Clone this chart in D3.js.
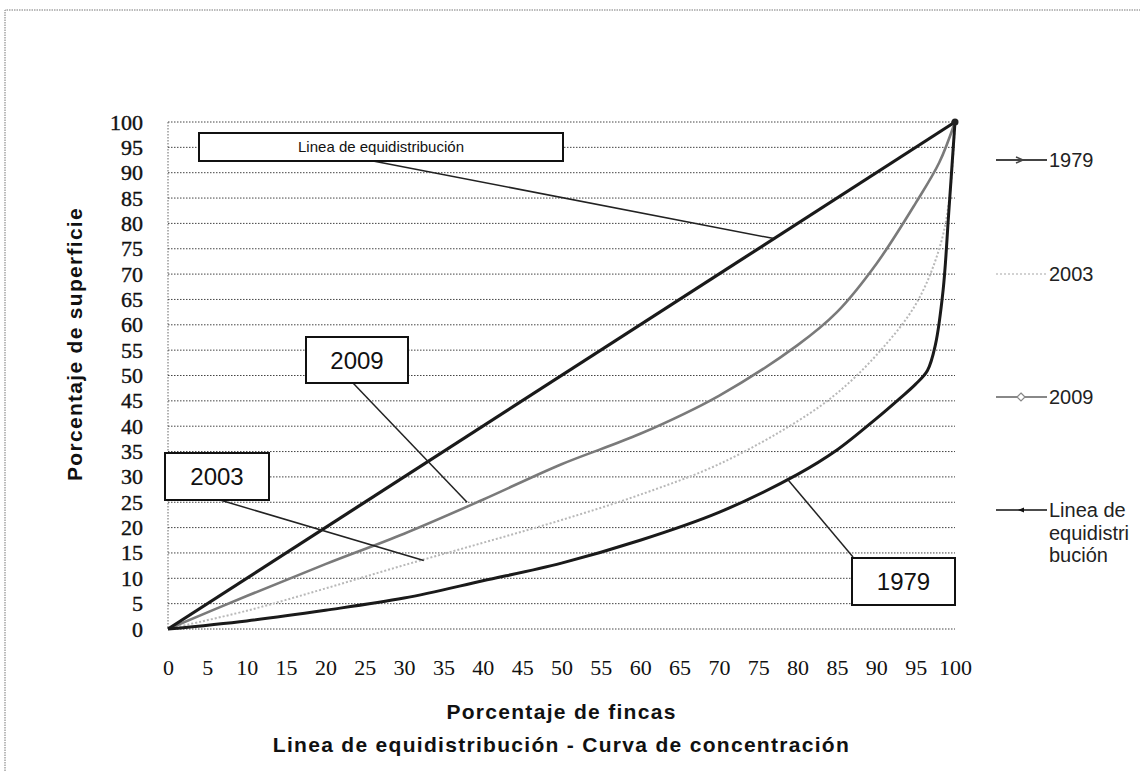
<!DOCTYPE html>
<html>
<head>
<meta charset="utf-8">
<script src="https://cdn.jsdelivr.net/npm/d3@7"></script>
<style>
  html, body { margin: 0; padding: 0; background: #fff; }
  svg { display: block; }
</style>
</head>
<body>
<svg id="chart" width="1140" height="771"></svg>
<script>
// ---------------- DATA ----------------
const xTicks = [0,5,10,15,20,25,30,35,40,45,50,55,60,65,70,75,80,85,90,95,100];
const yTicks = [0,5,10,15,20,25,30,35,40,45,50,55,60,65,70,75,80,85,90,95,100];

const equiX = [0, 100];
const equiY = [0, 100];

const x1979 = [0, 10, 20, 30, 40, 50, 60, 70, 80, 85, 90, 93, 95, 96.5, 97.5, 98.5, 99.2, 100];
const y1979 = [0, 1.6, 3.7, 6.1, 9.5, 13, 17.5, 23, 30.5, 35.3, 41.5, 45.5, 48.3, 51, 56, 67, 82, 100];

const x2003 = [0, 10, 20, 30, 40, 50, 60, 70, 80, 85, 90, 95, 98, 99.3, 100];
const y2003 = [0, 3.6, 8, 12.6, 17, 21.5, 26.5, 32.5, 41, 46.5, 54, 64, 75, 85, 100];

const x2009 = [0, 10, 20, 30, 40, 50, 60, 70, 80, 85, 90, 95, 98, 100];
const y2009 = [0, 6.5, 12.8, 18.8, 25.5, 32.5, 38.5, 46, 56, 62.5, 72, 84, 92, 100];

const legendLines = [["1979"], ["2003"], ["2009"], ["Linea de", "equidistri", "bución"]];

const xTitle = "Porcentaje de fincas";
const xTitle2 = "Linea de equidistribución - Curva de concentración";
const yTitle = "Porcentaje de superficie";

// callouts: label text, anchor point on curve (data coords)
const calloutText = ["Linea de equidistribución", "2009", "2003", "1979"];
const calloutAnchorX = [77, 38, 32.5, 78.8];
const calloutAnchorY = [77, 25, 13.5, 29.4];

// ---------------- LAYOUT ----------------
const svg = d3.select("#chart");
const L = 168, R = 955, T = 122, B = 629;
const x = d3.scaleLinear().domain([0, 100]).range([L, R]);
const y = d3.scaleLinear().domain([0, 100]).range([B, T]);

// outer chart border (dotted)
svg.append("path")
  .attr("d", `M5,771 L5,10 L1140,10`)
  .attr("fill", "none").attr("stroke", "#777").attr("stroke-width", 1)
  .attr("stroke-dasharray", "1.5,1");

// gridlines
svg.append("g").selectAll("line").data(yTicks).join("line")
  .attr("x1", L).attr("x2", R)
  .attr("y1", d => y(d)).attr("y2", d => y(d))
  .attr("stroke", "#444").attr("stroke-width", 1)
  .attr("stroke-dasharray", "1.5,1.5");

// left axis line (dotted)
svg.append("line").attr("x1", L).attr("x2", L).attr("y1", T).attr("y2", B)
  .attr("stroke", "#666").attr("stroke-width", 1).attr("stroke-dasharray", "1.5,1.5");

// y axis labels
const yAxis = svg.append("g").attr("transform", `translate(${L},0)`)
  .call(d3.axisLeft(y).tickValues(yTicks).tickSize(0).tickPadding(25).tickFormat(d3.format("d")));
yAxis.select(".domain").remove();
yAxis.selectAll("text").attr("font-family", "'Liberation Serif', serif")
  .attr("font-size", 22).attr("fill", "#111").attr("stroke", "#111").attr("stroke-width", 0.4);

// x axis labels
const xAxis = svg.append("g").attr("transform", `translate(0,${B})`)
  .call(d3.axisBottom(x).tickValues(xTicks).tickSize(0).tickPadding(30).tickFormat(d3.format("d")));
xAxis.select(".domain").remove();
xAxis.selectAll("text").attr("font-family", "'Liberation Serif', serif")
  .attr("font-size", 22).attr("fill", "#111");

// series
const line = d3.line().x(d => x(d[0])).y(d => y(d[1])).curve(d3.curveCatmullRom.alpha(0.5));
const zip = (a, b) => a.map((v, i) => [v, b[i]]);

const series = [
  { name: "2003", data: zip(x2003, y2003), color: "#b8b8b8", width: 2, dash: "2,2" },
  { name: "2009", data: zip(x2009, y2009), color: "#7a7a7a", width: 2.6, dash: null },
  { name: "1979", data: zip(x1979, y1979), color: "#1a1a1a", width: 3, dash: null },
  { name: "equi", data: zip(equiX, equiY), color: "#1a1a1a", width: 3.2, dash: null }
];
svg.append("g").selectAll("path").data(series).join("path")
  .attr("d", d => line(d.data))
  .attr("fill", "none")
  .attr("stroke", d => d.color)
  .attr("stroke-width", d => d.width)
  .attr("stroke-dasharray", d => d.dash)
  .attr("stroke-linejoin", "round");

// top-right point marker
svg.append("circle").attr("cx", x(100)).attr("cy", y(100)).attr("r", 3.5).attr("fill", "#222");

// callouts
const boxes = [
  { x: 199, y: 133, w: 364, h: 28, fs: 15, ax: 373, ay: 161 },
  { x: 306, y: 337, w: 102, h: 46, fs: 24, ax: 353, ay: 383 },
  { x: 165, y: 453, w: 104, h: 47, fs: 24, ax: 220, ay: 500 },
  { x: 852, y: 558, w: 103, h: 47, fs: 24, ax: 853, ay: 557 }
];
const cg = svg.append("g");
boxes.forEach((b, i) => {
  cg.append("line")
    .attr("x1", b.ax).attr("y1", b.ay)
    .attr("x2", x(calloutAnchorX[i])).attr("y2", y(calloutAnchorY[i]))
    .attr("stroke", "#222").attr("stroke-width", 1.5);
  cg.append("rect").attr("x", b.x).attr("y", b.y).attr("width", b.w).attr("height", b.h)
    .attr("fill", "#fff").attr("stroke", "#111").attr("stroke-width", 2);
  cg.append("text").attr("x", b.x + b.w / 2).attr("y", b.y + b.h / 2)
    .attr("dy", "0.36em").attr("text-anchor", "middle")
    .attr("font-family", "'Liberation Sans', Arial, sans-serif")
    .attr("font-size", b.fs).attr("fill", "#111")
    .text(calloutText[i]);
});

// legend
const legendY = [160, 274, 397, 510];
const lg = svg.append("g");
const legStyle = [
  { color: "#444", width: 2, dash: null, marker: "arrow" },
  { color: "#c4c4c4", width: 1.5, dash: "2,2", marker: null },
  { color: "#888", width: 2, dash: null, marker: "diamond" },
  { color: "#111", width: 1.5, dash: null, marker: "tri" }
];
legendLines.forEach((lines, i) => {
  const yy = legendY[i];
  const s = legStyle[i];
  lg.append("line").attr("x1", 996).attr("x2", 1047).attr("y1", yy).attr("y2", yy)
    .attr("stroke", s.color).attr("stroke-width", s.width).attr("stroke-dasharray", s.dash);
  if (s.marker === "arrow") {
    lg.append("path").attr("d", `M1016,${yy - 3} L1023,${yy} L1016,${yy + 3}`)
      .attr("fill", "none").attr("stroke", s.color).attr("stroke-width", 1.5);
  } else if (s.marker === "diamond") {
    lg.append("path").attr("d", `M1021,${yy - 4} L1025,${yy} L1021,${yy + 4} L1017,${yy} Z`)
      .attr("fill", "#fff").attr("stroke", s.color).attr("stroke-width", 1.2);
  } else if (s.marker === "tri") {
    lg.append("path").attr("d", `M1018,${yy} L1024,${yy - 2.5} L1024,${yy + 2.5} Z`)
      .attr("fill", s.color);
  }
  const t = lg.append("text").attr("x", 1049).attr("y", yy)
    .attr("font-family", "'Liberation Sans', Arial, sans-serif")
    .attr("font-size", 20).attr("fill", "#222");
  lines.forEach((ln, j) => {
    t.append("tspan").attr("x", 1049).attr("dy", j === 0 ? "0.36em" : "1.12em").text(ln);
  });
});

// axis titles
const titleFont = { family: "'Liberation Sans', Arial, sans-serif", size: 21, ls: 1.3 };
svg.append("text").attr("x", (L + R) / 2).attr("y", 719).attr("text-anchor", "middle")
  .attr("font-family", titleFont.family).attr("font-weight", "bold")
  .attr("font-size", titleFont.size).attr("letter-spacing", titleFont.ls).attr("fill", "#111").text(xTitle);
svg.append("text").attr("x", (L + R) / 2).attr("y", 752).attr("text-anchor", "middle")
  .attr("font-family", titleFont.family).attr("font-weight", "bold")
  .attr("font-size", titleFont.size).attr("letter-spacing", titleFont.ls).attr("fill", "#111").text(xTitle2);
svg.append("text").attr("transform", `translate(82,344) rotate(-90)`).attr("text-anchor", "middle")
  .attr("font-family", titleFont.family).attr("font-weight", "bold")
  .attr("font-size", titleFont.size).attr("letter-spacing", titleFont.ls).attr("fill", "#111").text(yTitle);
</script>
</body>
</html>
